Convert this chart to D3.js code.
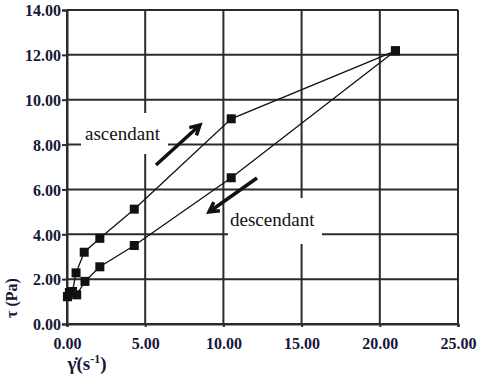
<!DOCTYPE html>
<html>
<head>
<meta charset="utf-8">
<script src="https://cdn.jsdelivr.net/npm/d3@7"></script>
<style>
  html, body { margin: 0; padding: 0; background: #fff; }
  svg { display: block; }
</style>
</head>
<body>
<div id="chart"></div>
<script>
// Shear stress vs shear rate: ascending and descending branches of the loop
const ascRate   = [0.03, 0.35, 0.58, 1.1, 2.1, 4.3, 10.5, 21.0];
const ascStress = [1.22, 1.45, 2.28, 3.2, 3.82, 5.12, 9.15, 12.18];
const descRate   = [21.0, 10.5, 4.3, 2.1, 1.15, 0.62, 0.15, 0.03];
const descStress = [12.18, 6.52, 3.5, 2.55, 1.9, 1.3, 1.4, 1.22];

const xTicks = [0, 5, 10, 15, 20, 25];
const yTicks = [0, 2, 4, 6, 8, 10, 12, 14];

const SERIF = "'Liberation Serif'";
const INK = "#16163a";

const W = 482, H = 381;
const svg = d3.select("#chart").append("svg").attr("width", W).attr("height", H);

const x = d3.scaleLinear().domain([0, 25]).range([67, 458]);
const y = d3.scaleLinear().domain([0, 14]).range([324, 10]);

const gridColor = "#2b2b2b";

// grid lines
svg.append("g").selectAll("line").data(yTicks).join("line")
  .attr("x1", x(0)).attr("x2", x(25))
  .attr("y1", d => y(d)).attr("y2", d => y(d))
  .attr("stroke", gridColor).attr("stroke-width", 2);
svg.append("g").selectAll("line").data(xTicks).join("line")
  .attr("x1", d => x(d)).attr("x2", d => x(d))
  .attr("y1", y(0)).attr("y2", y(14))
  .attr("stroke", gridColor).attr("stroke-width", 2);

// axes
const fmt = d3.format(".2f");
const yAxis = svg.append("g").attr("transform", `translate(${x(0)},0)`)
  .call(d3.axisLeft(y).tickValues(yTicks).tickFormat(fmt).tickSize(5).tickPadding(1));
const xAxis = svg.append("g").attr("transform", `translate(0,${y(0)})`)
  .call(d3.axisBottom(x).tickValues(xTicks).tickFormat(fmt).tickSize(3).tickPadding(11));
[yAxis, xAxis].forEach(g => {
  g.attr("font-family", null).attr("font-size", null);
  g.select(".domain").attr("stroke", gridColor).attr("stroke-width", 2);
  g.selectAll(".tick line").attr("stroke", gridColor).attr("stroke-width", 2);
  g.selectAll("text").attr("fill", INK)
    .style("font-family", SERIF).style("font-size", "16px").style("font-weight", "bold");
});
yAxis.selectAll("text").attr("dy", "0.36em");

// white boxes behind the branch labels
svg.append("rect").attr("x", 81).attr("y", 113).attr("width", 87).attr("height", 41).attr("fill", "#fff");
svg.append("rect").attr("x", 228).attr("y", 198).attr("width", 94).attr("height", 46).attr("fill", "#fff");

// data lines
const line = d3.line().x(d => x(d[0])).y(d => y(d[1]));
const asc = ascRate.map((r, i) => [r, ascStress[i]]);
const desc = descRate.map((r, i) => [r, descStress[i]]);
[asc, desc].forEach(s => {
  svg.append("path").datum(s).attr("d", line)
    .attr("fill", "none").attr("stroke", "#111").attr("stroke-width", 1.3);
});

// square markers
const m = 9;
svg.append("g").selectAll("rect").data(asc.concat(desc)).join("rect")
  .attr("x", d => x(d[0]) - m / 2).attr("y", d => y(d[1]) - m / 2)
  .attr("width", m).attr("height", m).attr("fill", "#111");

// direction arrows
function arrow(x1, y1, x2, y2) {
  const a = Math.atan2(y2 - y1, x2 - x1), h = 11, spread = 0.5;
  const p = d3.path();
  p.moveTo(x1, y1); p.lineTo(x2, y2);
  p.moveTo(x2 - h * Math.cos(a - spread), y2 - h * Math.sin(a - spread));
  p.lineTo(x2, y2);
  p.lineTo(x2 - h * Math.cos(a + spread), y2 - h * Math.sin(a + spread));
  svg.append("path").attr("d", p.toString()).attr("fill", "none")
    .attr("stroke", "#111").attr("stroke-width", 3.5)
    .attr("stroke-linejoin", "miter").attr("stroke-linecap", "butt");
}
arrow(156, 165, 200, 125);
arrow(257, 178, 209, 212);

// branch labels
svg.append("text").attr("x", 85).attr("y", 140).attr("fill", "#111")
  .style("font-family", SERIF).style("font-size", "19px").text("ascendant");
svg.append("text").attr("x", 230).attr("y", 226).attr("fill", "#111")
  .style("font-family", SERIF).style("font-size", "19px").text("descendant");

// axis titles
svg.append("text").attr("transform", "translate(17,298) rotate(-90)")
  .attr("text-anchor", "middle").attr("fill", INK)
  .style("font-family", SERIF).style("font-size", "16px").style("font-weight", "bold")
  .text("τ (Pa)");
const xt = svg.append("text").attr("x", 87).attr("y", 370).attr("text-anchor", "middle")
  .attr("fill", INK)
  .style("font-family", SERIF).style("font-size", "19px").style("font-weight", "bold");
xt.append("tspan").text("γ\u0307(s");
xt.append("tspan").attr("dy", -7).style("font-size", "12px").text("-1");
xt.append("tspan").attr("dy", 7).text(")");
</script>
</body>
</html>
